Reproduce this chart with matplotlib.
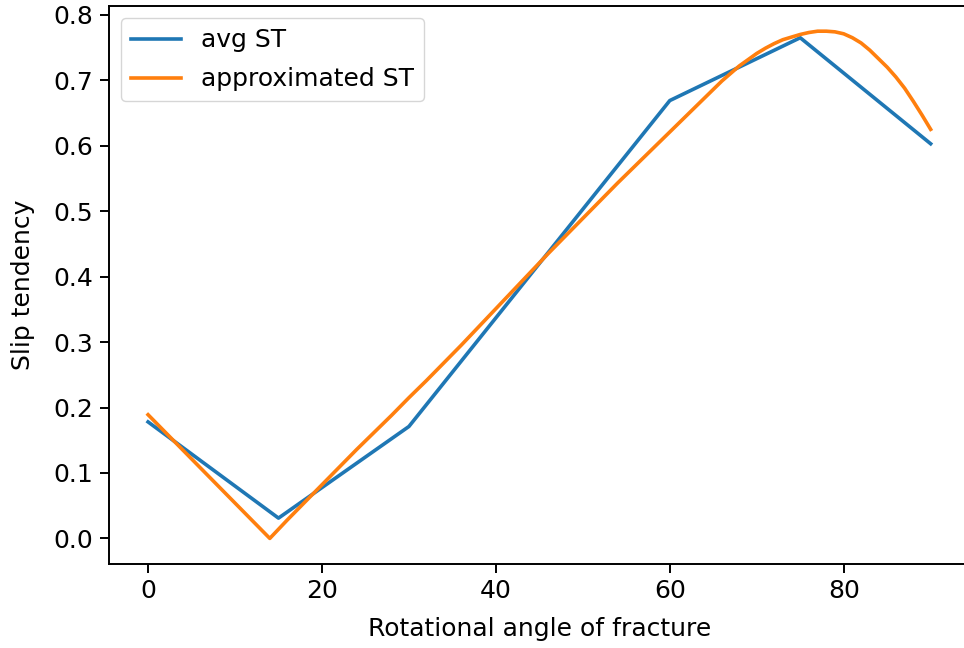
import matplotlib
matplotlib.use("Agg")
import matplotlib.pyplot as plt

# Averaged slip tendency at each rotation angle
angles = [0, 15, 30, 45, 60, 75, 90]
avg_st = [0.178, 0.031, 0.171, 0.42, 0.669, 0.765, 0.603]

# Approximated slip tendency curve
approx_angles = [0, 2, 4, 6, 8, 10, 12, 14, 16, 18, 20, 22, 24, 26, 28, 30,
                 32, 34, 36, 38, 40, 42, 44, 46, 48, 50, 52, 54, 56, 58, 60,
                 62, 64, 66, 68, 70, 71, 72, 73, 74, 75, 76, 77, 78, 79, 80,
                 81, 82, 83, 84, 85, 86, 87, 88, 89, 90]
approx_st = [0.189, 0.162, 0.135, 0.108, 0.081, 0.054, 0.027, 0.0, 0.028,
             0.055, 0.082, 0.109, 0.136, 0.162, 0.188, 0.215, 0.241, 0.268,
             0.295, 0.323, 0.351, 0.379, 0.407, 0.435, 0.462, 0.489, 0.516,
             0.543, 0.569, 0.595, 0.621, 0.647, 0.673, 0.699, 0.722, 0.741,
             0.749, 0.756, 0.762, 0.766, 0.770, 0.773, 0.775, 0.775, 0.774,
             0.771, 0.765, 0.757, 0.746, 0.733, 0.720, 0.705, 0.688, 0.668,
             0.647, 0.625]

fs = 18
plt.rcParams.update({
    "font.family": "DejaVu Sans",
    "font.size": fs,
    "axes.linewidth": 1.4,
    "xtick.major.width": 1.4,
    "ytick.major.width": 1.4,
    "xtick.major.size": 6.2,
    "ytick.major.size": 6.2,
    "xtick.major.pad": 5,
    "ytick.major.pad": 5,
})

fig = plt.figure(figsize=(9.64, 6.48), dpi=100)
ax = fig.add_axes([0.113, 0.130, 0.893, 0.861])

ax.plot(angles, avg_st, color="#1f77b4", lw=2.6, label="avg ST")
ax.plot(approx_angles, approx_st, color="#ff7f0e", lw=2.6, label="approximated ST")

ax.set_xlim(-4.5, 94.5)
ax.set_xticks([0, 20, 40, 60, 80])
ax.set_yticks([0.0, 0.1, 0.2, 0.3, 0.4, 0.5, 0.6, 0.7, 0.8])
ax.spines["right"].set_visible(False)
ax.set_xlabel("Rotational angle of fracture", fontsize=fs, labelpad=10)
ax.set_ylabel("Slip tendency", fontsize=fs, labelpad=13)
ax.legend(loc="upper left", fontsize=fs, handlelength=2.0, labelspacing=0.6)

fig.savefig("out.png", dpi=100)
